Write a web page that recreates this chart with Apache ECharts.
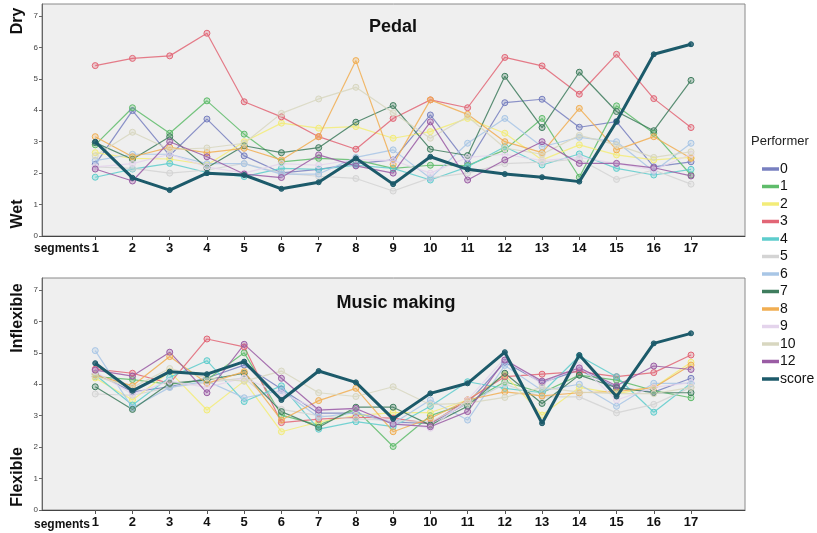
<!DOCTYPE html>
<html>
<head>
<meta charset="utf-8">
<script src="https://cdn.jsdelivr.net/npm/echarts@6/dist/echarts.min.js"></script>
<style>html,body{margin:0;padding:0;background:#fff}#c{width:817px;height:533px}</style>
</head>
<body>
<div id="c"></div>
<script>
var segments = [1,2,3,4,5,6,7,8,9,10,11,12,13,14,15,16,17];
var yTicks = [0,1,2,3,4,5,6,7];
var performers = ['0','1','2','3','4','5','6','7','8','9','10','12','score'];
var colors = ['#7880c0','#5fbc6b','#f3ec78','#e26676','#5ecdcd','#d4d4d4','#a8c6e6','#3f7d5e','#f1ae52','#e4d4ec','#d8d7c0','#9a5ca4','#1c5a6a'];

// Pedal (top panel)
var pedal0  = [2.28,3.99,2.56,3.72,2.55,2.01,2.12,2.30,2.42,3.85,2.31,4.24,4.35,3.46,3.64,2.20,2.36];
var pedal1  = [2.90,4.08,3.27,4.30,3.24,2.36,2.47,2.42,2.15,2.25,2.24,2.74,3.74,1.87,4.14,3.27,1.94];
var pedal2  = [2.65,2.47,2.45,2.26,3.00,3.59,3.43,3.48,3.11,3.32,3.74,3.27,2.42,2.90,2.58,2.42,2.50];
var pedal3  = [5.42,5.65,5.73,6.45,4.27,3.79,3.16,2.76,3.74,4.33,4.08,5.68,5.41,4.51,5.78,4.37,3.45];
var pedal4  = [1.87,2.13,2.31,2.02,1.89,2.15,2.12,2.25,2.15,1.78,2.20,2.84,2.26,2.61,2.15,1.94,2.12];
var pedal5  = [2.20,2.15,2.00,2.10,2.31,2.00,1.90,1.83,1.43,1.85,2.00,2.30,2.35,2.45,1.80,2.10,1.65];
var pedal6  = [2.40,2.60,2.60,2.30,2.30,1.97,1.97,2.50,2.74,1.84,2.95,3.74,2.84,3.14,3.00,2.05,2.95];
var pedal7  = [2.97,2.44,3.16,2.17,2.87,2.65,2.81,3.62,4.15,2.76,2.56,5.08,3.45,5.21,3.96,3.35,4.95];
var pedal8  = [3.16,2.52,2.82,2.65,2.79,2.42,3.16,5.58,2.28,4.33,3.87,3.00,2.65,4.06,2.74,3.16,2.47];
var pedal9  = [2.20,2.30,2.60,2.20,2.00,2.30,2.25,2.44,2.40,2.00,2.50,2.60,2.40,2.50,2.30,2.10,2.60];
var pedal10 = [2.55,3.30,2.75,2.80,2.95,3.90,4.36,4.73,3.92,3.11,3.80,2.80,2.60,3.20,2.90,2.50,2.68];
var pedal12 = [2.13,1.75,3.00,2.52,1.97,1.86,2.58,2.23,2.00,3.63,1.78,2.42,3.00,2.31,2.31,2.17,1.91];
var pedalScore = [3.00,1.85,1.46,2.00,1.94,1.50,1.71,2.47,1.65,2.52,2.12,1.97,1.87,1.73,3.64,5.78,6.10];

// Music making (bottom panel)
var music0  = [4.35,3.76,3.92,4.20,4.61,3.85,3.08,3.08,2.80,2.75,3.40,4.70,4.05,4.45,3.90,3.75,4.19];
var music1  = [4.24,4.15,4.00,4.14,5.00,3.02,2.70,3.20,2.02,3.00,3.40,4.08,3.73,4.29,4.13,3.80,3.57];
var music2  = [4.20,3.50,4.40,3.18,4.10,2.49,2.80,3.00,3.10,3.10,3.50,4.30,3.02,3.90,3.70,3.90,4.70];
var music3  = [4.48,4.35,4.03,5.44,5.19,2.78,2.89,2.95,2.92,2.75,3.50,4.24,4.32,4.40,4.24,4.37,4.93];
var music4  = [4.30,3.34,4.22,4.75,3.45,3.95,2.57,2.81,2.65,3.30,4.08,3.87,3.73,4.90,4.24,3.11,4.03];
var music5  = [3.69,3.65,3.90,4.05,4.20,3.20,3.00,2.90,2.85,2.80,3.40,4.00,3.60,3.60,3.09,3.36,3.90];
var music6  = [5.07,3.25,3.90,4.10,3.57,3.80,2.95,3.10,2.75,3.50,2.86,4.60,3.80,4.00,3.30,4.03,4.03];
var music7  = [3.92,3.20,4.03,4.14,4.35,3.13,2.63,3.27,3.27,2.70,3.30,4.35,3.39,4.29,3.89,3.73,3.73];
var music8  = [4.30,3.95,4.88,4.03,4.40,2.86,3.48,3.87,2.49,2.92,3.50,3.76,3.63,3.73,3.77,3.89,4.61];
var music9  = [4.40,3.68,4.10,3.90,4.20,3.70,3.20,3.20,2.80,2.60,3.50,4.83,4.00,4.60,3.50,3.90,4.05];
var music10 = [4.25,3.90,4.50,4.20,4.10,4.42,3.73,3.61,3.92,3.35,3.40,3.58,3.90,3.75,3.70,3.70,3.90];
var music12 = [4.45,4.26,5.02,3.73,5.27,4.19,3.18,3.23,2.73,2.65,3.13,4.77,4.10,4.52,3.95,4.58,4.47];
var musicScore = [4.67,3.79,4.40,4.32,4.72,3.50,4.42,4.06,2.90,3.71,4.03,5.02,2.76,4.93,3.61,5.30,5.62];

var pedalSets = [pedal0,pedal1,pedal2,pedal3,pedal4,pedal5,pedal6,pedal7,pedal8,pedal9,pedal10,pedal12,pedalScore];
var musicSets = [music0,music1,music2,music3,music4,music5,music6,music7,music8,music9,music10,music12,musicScore];

function hexA(hex, a){
  var r=parseInt(hex.substr(1,2),16),g=parseInt(hex.substr(3,2),16),b=parseInt(hex.substr(5,2),16);
  return 'rgba('+r+','+g+','+b+','+a+')';
}
function pairs(vals){ return segments.map(function(s,i){return [s, vals[i]];}); }

var series = [];
[pedalSets, musicSets].forEach(function(sets, gi){
  sets.forEach(function(vals, i){
    var isScore = performers[i] === 'score';
    series.push({
      name: performers[i],
      type: 'line',
      xAxisIndex: gi, yAxisIndex: gi,
      data: pairs(vals),
      symbol: 'circle',
      symbolSize: isScore ? 5 : 6,
      z: isScore ? 5 : 2,
      lineStyle: {color: colors[i], width: isScore ? 3 : 1.2, opacity: isScore ? 1 : 0.85},
      itemStyle: {color: hexA(colors[i], isScore ? 0.8 : 0.3), borderColor: colors[i], borderWidth: 1},
      emphasis: {disabled: true},
      animation: false
    });
  });
});

function xAx(gi){
  return {
    gridIndex: gi, type: 'value', min: -0.43, max: 18.45,
    axisLine: {show: true, onZero: false, lineStyle: {color: '#444', width: 1}},
    axisTick: {show: true, length: 4, lineStyle: {color: '#555'}, customValues: segments},
    axisLabel: {customValues: segments, color: '#111', fontSize: 13, fontWeight: 'bold', margin: 6, fontFamily: 'Liberation Sans, Arial, sans-serif'},
    splitLine: {show: false}
  };
}
function yAx(gi){
  return {
    gridIndex: gi, type: 'value', min: 0, max: 7.38,
    axisLine: {show: true, onZero: false, lineStyle: {color: '#666'}},
    axisTick: {show: true, length: 3, lineStyle: {color: '#666'}, customValues: yTicks},
    axisLabel: {customValues: yTicks, color: '#444', fontSize: 8, margin: 4, fontFamily: 'Liberation Sans, Arial, sans-serif'},
    splitLine: {show: false}
  };
}

var chart = echarts.init(document.getElementById('c'), null, {renderer: 'canvas'});
chart.setOption({
  animation: false,
  backgroundColor: '#ffffff',
  textStyle: {fontFamily: 'Liberation Sans, Arial, sans-serif'},
  grid: [
    {left: 42, right: 72, top: 4, height: 232, show: true, backgroundColor: '#efefef', borderColor: '#8a8a8a', borderWidth: 1},
    {left: 42, right: 72, top: 278, height: 232, show: true, backgroundColor: '#efefef', borderColor: '#8a8a8a', borderWidth: 1}
  ],
  xAxis: [xAx(0), xAx(1)],
  yAxis: [yAx(0), yAx(1)],
  title: [
    {text: 'Pedal', left: 388, top: 13, textAlign: 'center', textStyle: {fontSize: 18, fontWeight: 'bold', color: '#111'}},
    {text: 'Music making', left: 391, top: 289, textAlign: 'center', textStyle: {fontSize: 18, fontWeight: 'bold', color: '#111'}},
    {text: 'Performer', left: 751, top: 135, padding: 0, textStyle: {fontSize: 13, fontWeight: 'normal', color: '#222'}}
  ],
  legend: {
    orient: 'vertical', left: 757, top: 157,
    data: performers,
    icon: 'rect', itemWidth: 15, itemHeight: 1.5, itemGap: 3.5,
    textStyle: {fontSize: 14, color: '#111', padding: [0,0,0,-3]},
    selectedMode: false
  },
  graphic: [
    {type: 'text', x: 18, y: 21, rotation: Math.PI/2, style: {text: 'Dry', fontSize: 16, fontWeight: 'bold', fill: '#111', align: 'center', verticalAlign: 'middle'}},
    {type: 'text', x: 18, y: 214, rotation: Math.PI/2, style: {text: 'Wet', fontSize: 16, fontWeight: 'bold', fill: '#111', align: 'center', verticalAlign: 'middle'}},
    {type: 'text', x: 18, y: 318, rotation: Math.PI/2, style: {text: 'Inflexible', fontSize: 16, fontWeight: 'bold', fill: '#111', align: 'center', verticalAlign: 'middle'}},
    {type: 'text', x: 18, y: 477, rotation: Math.PI/2, style: {text: 'Flexible', fontSize: 16, fontWeight: 'bold', fill: '#111', align: 'center', verticalAlign: 'middle'}},
    {type: 'text', x: 90, y: 249, style: {text: 'segments', fontSize: 12, fontWeight: 'bold', fill: '#111', align: 'right', verticalAlign: 'middle'}},
    {type: 'text', x: 90, y: 525, style: {text: 'segments', fontSize: 12, fontWeight: 'bold', fill: '#111', align: 'right', verticalAlign: 'middle'}}
  ],
  series: series
});
</script>
</body>
</html>
